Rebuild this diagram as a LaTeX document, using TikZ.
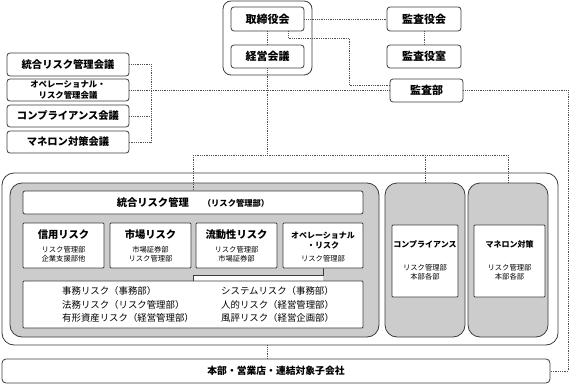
\documentclass[tikz,border=0pt]{standalone}
\usepackage{fontspec}
\setmainfont{Noto Sans CJK JP}
\newcommand\myfs[2]{\fontsize{#1}{#2}\selectfont}
\definecolor{gfill}{RGB}{204,204,204}
\definecolor{edge}{RGB}{60,60,60}
\definecolor{dots}{RGB}{80,80,80}
\begin{document}
\begin{tikzpicture}[x=1pt,y=-1pt,
  bx/.style={draw=edge, line width=0.8pt, fill=white, rounded corners=3pt, inner sep=0pt, align=center},
  sq/.style={draw=edge, line width=0.8pt, fill=white, rounded corners=1pt, inner sep=0pt},
  gbox/.style={draw=edge, line width=0.8pt, fill=gfill, rounded corners=12pt, inner sep=0pt},
  dl/.style={draw=dots, line width=0.8pt, densely dotted},
  tA/.style={font=\bfseries\myfs{11}{13}, inner sep=0pt},
  tB/.style={font=\bfseries\myfs{10.3}{12}, inner sep=0pt, align=center},
  tC/.style={font=\bfseries\myfs{8}{10.5}, inner sep=0pt, align=center},
  tS/.style={font=\myfs{7.3}{8.8}, inner sep=0pt, align=center},
  tL/.style={font=\myfs{9.4}{13.3}, inner sep=0pt, align=left, anchor=west},
]
\useasboundingbox (0,0) rectangle (569,385);

% top management group
\node[bx, rounded corners=8pt, minimum width=89pt, minimum height=74pt] (top) at (267.5,38) {};
\node[bx, minimum width=73pt, minimum height=24pt, tA] (tori) at (267.5,19) {取締役会};
\node[bx, minimum width=73pt, minimum height=23pt, tA] (keiei) at (267.5,56.5) {経営会議};

% audit
\node[bx, minimum width=74pt, minimum height=24pt, tA] (kyakukai) at (424,19) {監査役会};
\node[bx, minimum width=74pt, minimum height=23pt, tA] (kyakushitsu) at (424,56.5) {監査役室};
\node[bx, minimum width=73pt, minimum height=23pt, tA] (kansabu) at (426.5,90.5) {監査部};

% committees
\node[bx, minimum width=122pt, minimum height=23pt, tB] (l1) at (68,64.5) {統合リスク管理会議};
\node[bx, minimum width=122pt, minimum height=22pt, font=\bfseries\myfs{8.4}{11.5}] (l2) at (68,90) {オペレーショナル・\\リスク管理会議};
\node[bx, minimum width=122pt, minimum height=22pt, tB] (l3) at (68,116) {コンプライアンス会議};
\node[bx, minimum width=122pt, minimum height=22pt, tB] (l4) at (68,142) {マネロン対策会議};

% big frame
\node[bx, rounded corners=12pt, minimum width=556pt, minimum height=172pt] (outer) at (280,259) {};
\node[gbox, minimum width=369pt, minimum height=154pt] (riskG) at (194.5,260) {};
\node[gbox, minimum width=80pt, minimum height=154pt] (compG) at (425,260) {};
\node[gbox, minimum width=80pt, minimum height=154pt] (manG) at (508,260) {};

% integrated risk management
\node[bx, rounded corners=2pt, minimum width=340pt, minimum height=23pt] (togo) at (193,202.5) {};
\node[tB] (togoT) at (togo.center) {統合リスク管理\hspace{14pt}{\myfs{8.3}{10}（リスク管理部）}};

% risk boxes
\node[sq, minimum width=81pt, minimum height=45pt] (shinyo) at (63.5,245.5) {};
\node[sq, minimum width=81pt, minimum height=45pt] (shijo) at (150.5,245.5) {};
\node[sq, minimum width=81pt, minimum height=45pt] (ryudo) at (236.5,245.5) {};

% tab joining operational risk to list box
\fill[white] (193,275) rectangle (323,283);
\draw[draw=edge, line width=0.8pt] (193,282) -- (193,275) -- (323,275) -- (323,268);

\node[sq, minimum width=80pt, minimum height=45pt] (opera) at (323,245.5) {};
\node[tB] (shinyoT) at (63.5,235) {信用リスク};
\node[tS] (shinyoS) at (63.5,254.5) {リスク管理部\\企業支援部他};
\node[tB] (shijoT) at (150.5,235) {市場リスク};
\node[tS] (shijoS) at (150.5,254.5) {市場証券部\\リスク管理部};
\node[tB] (ryudoT) at (236.5,235) {流動性リスク};
\node[tS] (ryudoS) at (236.5,254.5) {リスク管理部\\市場証券部};
\node[tC] (operaT) at (323,240.5) {オペレーショナル\\・リスク};
\node[tS] (operaS) at (323,259) {リスク管理部};

% list of operational risks
\node[sq, minimum width=340pt, minimum height=47pt] (list) at (193,304.5) {};
\node[tL] (listL) at (62,304.5) {事務リスク（事務部）\\法務リスク（リスク管理部）\\有形資産リスク（経営管理部）};
\node[tL] (listR) at (221,304.5) {システムリスク（事務部）\\人的リスク（経営管理部）\\風評リスク（経営企画部）};

% compliance / AML
\node[sq, minimum width=66pt, minimum height=72pt] (comp) at (425,261) {};
\node[tC] (compT) at (425,244) {コンプライアンス};
\node[tS] (compS) at (425,272.5) {リスク管理部\\本部各部};
\node[sq, minimum width=71pt, minimum height=72pt] (man) at (509.5,261) {};
\node[tC] (manT) at (509.5,244) {マネロン対策};
\node[tS] (manS) at (509.5,272.5) {リスク管理部\\本部各部};

% bottom
\node[bx, rounded corners=4pt, minimum width=548pt, minimum height=24pt, font=\bfseries\myfs{9.8}{12}] (honbu) at (276,371) {本部・営業店・連結対象子会社};

% connectors
\coordinate (j1) at (267.5,155);
\coordinate (jL) at (193,155);
\coordinate (jC) at (425,155);
\coordinate (jR) at (508,155);
\coordinate (lv) at (151,64.5);
\coordinate (a1) at (288,38);
\coordinate (a2) at (349,38);
\coordinate (a3) at (349,85);
\coordinate (r1) at (568,90.5);
\coordinate (r2) at (568,371);

\draw[dl] (tori.south) -- (keiei.north);
\draw[dl] (keiei.south) -- (j1);
\draw[dl] (jL) -- (jR);
\draw[dl] (jL) -- (togo.north);
\draw[dl] (jC) -- (compG.north);
\draw[dl] (jR) -- (manG.north);
\draw[dl] (tori.east) -- (kyakukai.west);
\draw[dl] (kyakukai.south) -- (kyakushitsu.north);
\draw[dl] (tori.south -| a1) -- (a1) -- (a2) -- (a3) -- (kansabu.west |- a3);
\draw[dl] (kansabu.east) -- (r1) -- (r2) -- (honbu.east);
\draw[dl] (l1.east) -- (lv) -- (lv |- l4.east) -- (l4.east);
\draw[dl] (l3.east) -- (lv |- l3.east);
\draw[dl] (l2.east) -- (kansabu.west |- l2.east);
\draw[dl] (outer.south -| j1) -- (honbu.north -| j1);
\end{tikzpicture}
\end{document}
